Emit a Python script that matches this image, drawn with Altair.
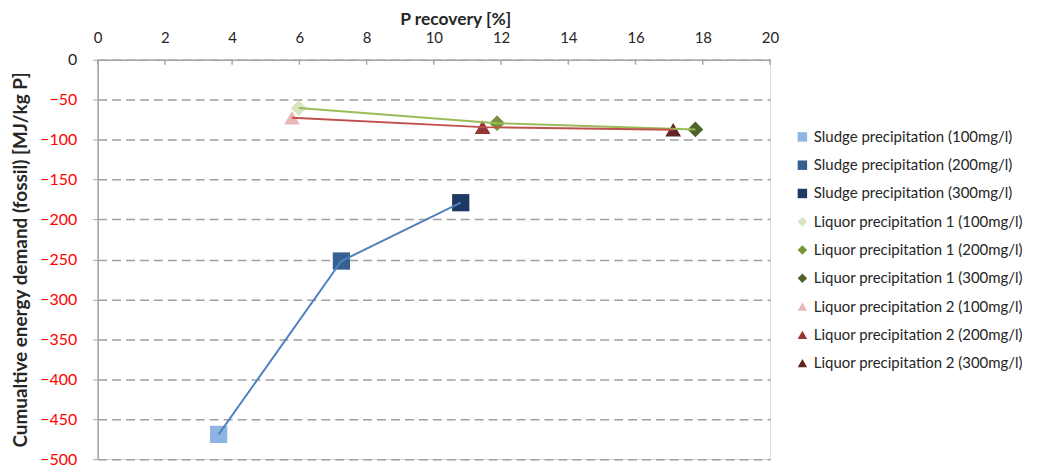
import altair as alt
import pandas as pd

series = [
    "Sludge precipitation (100mg/l)", "Sludge precipitation (200mg/l)", "Sludge precipitation (300mg/l)",
    "Liquor precipitation 1 (100mg/l)", "Liquor precipitation 1 (200mg/l)", "Liquor precipitation 1 (300mg/l)",
    "Liquor precipitation 2 (100mg/l)", "Liquor precipitation 2 (200mg/l)", "Liquor precipitation 2 (300mg/l)",
]
groups = ["Sludge"] * 3 + ["Liquor 1"] * 3 + ["Liquor 2"] * 3
p_recovery = [3.6, 7.25, 10.8, 5.98, 11.88, 17.78, 5.78, 11.45, 17.12]
ced = [-469, -252, -179, -60.5, -79.5, -87.3, -72.7, -84.4, -87.7]

point_colors = ["#8DB4E2", "#366092", "#1F3864",
                "#D7E4BD", "#77933C", "#4F6228",
                "#E6B9B8", "#953735", "#632523"]
point_shapes = ["square"] * 3 + ["diamond"] * 3 + ["triangle-up"] * 3
group_names = ["Sludge", "Liquor 1", "Liquor 2"]
line_colors = ["#4F81BD", "#9BBB59", "#C0504D"]
x_ticks = [0, 2, 4, 6, 8, 10, 12, 14, 16, 18, 20]
y_ticks = [0, -50, -100, -150, -200, -250, -300, -350, -400, -450, -500]

df = pd.DataFrame({"series": series, "group": groups, "x": p_recovery, "y": ced,
                   "order": list(range(9))})
tick_df = pd.DataFrame({"t": x_ticks})

FONT = "Lato"
TXT = "#262626"

xscale = alt.Scale(domain=[0, 20], nice=False, zero=False)
yscale = alt.Scale(domain=[-500, 0], nice=False)

x_enc = alt.X("x:Q", scale=xscale, axis=alt.Axis(
    orient="top", values=x_ticks, title="P recovery [%]", grid=False,
    tickSize=0, labelPadding=14, labelFlush=False, domainColor="#A6A6A6", domainWidth=1.5,
    labelFontSize=15, labelColor=TXT, labelFont=FONT,
    titleFont=FONT, titleFontSize=17.5, titleFontWeight="bold", titleColor=TXT,
    titleX=359, titleY=-35, titleBaseline="alphabetic"))
y_enc = alt.Y("y:Q", scale=yscale, axis=alt.Axis(
    values=y_ticks, title="Cumualtive energy demand (fossil) [MJ/kg P]",
    grid=True, gridDash=[9, 5], gridColor="#A0A0A0", gridWidth=1.5,
    tickSize=5, tickColor="#A6A6A6", domainColor="#A6A6A6", domainWidth=1.5,
    labelPadding=16, labelFlush=False, labelFontSize=16, labelFont=FONT,
    labelColor={"condition": {"test": "datum.value == 0", "value": TXT}, "value": "#FF0000"},
    titleFont=FONT, titleFontSize=19, titleFontWeight="bold", titleColor=TXT,
    titlePadding=9))

legend = alt.Legend(title=None, orient="none", legendX=700, legendY=70,
                    labelFont=FONT, labelFontSize=15, labelColor=TXT, labelLimit=400,
                    symbolSize=90, rowPadding=12.4, labelOffset=4, symbolStrokeWidth=0)

points = alt.Chart(df).mark_point(filled=True, opacity=1).encode(
    x=x_enc, y=y_enc,
    fill=alt.Fill("series:N", scale=alt.Scale(domain=series, range=point_colors), legend=legend),
    shape=alt.Shape("series:N", scale=alt.Scale(domain=series, range=point_shapes), legend=legend),
    size=alt.condition("datum.group == 'Sludge'", alt.value(300), alt.value(250)),
)

lines = alt.Chart(df).mark_line(strokeWidth=2).encode(
    x="x:Q", y="y:Q",
    stroke=alt.Stroke("group:N", scale=alt.Scale(domain=group_names, range=line_colors), legend=None),
    order="order:Q",
)

ticks = alt.Chart(tick_df).mark_rule(color="#A6A6A6", strokeWidth=1.5).encode(
    x=alt.X("t:Q"), y=alt.value(0), y2=alt.value(5))

chart = alt.layer(ticks, points, lines).properties(
    width=675, height=401,
    autosize=alt.AutoSizeParams(type="none"),
    padding={"left": 90, "top": 51, "right": 262, "bottom": 9},
).configure_view(stroke=None).configure(background="white")

chart.save("out.html", embed_options={"renderer": "svg", "actions": False})
